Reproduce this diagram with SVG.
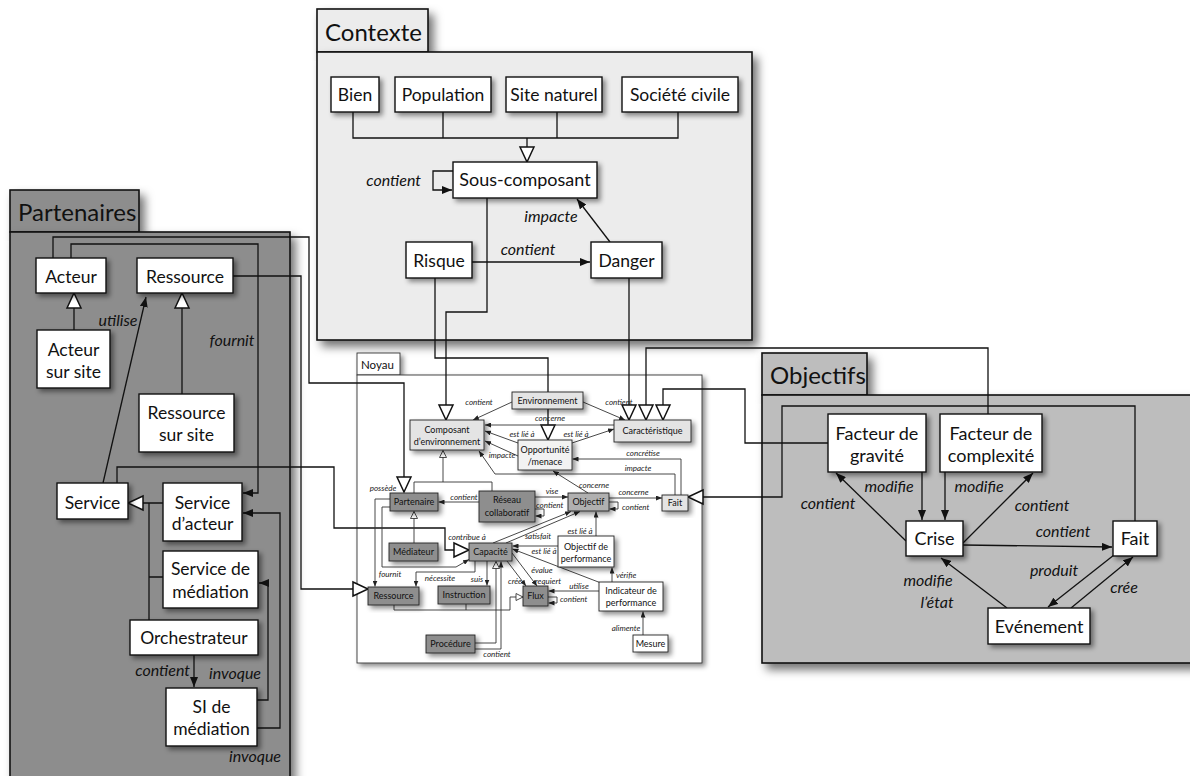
<svg xmlns="http://www.w3.org/2000/svg" width="1190" height="776" viewBox="0 0 1190 776">
<defs>
<filter id="sh" x="-20%" y="-30%" width="150%" height="170%"><feDropShadow dx="3" dy="3" stdDeviation="2.5" flood-color="#000" flood-opacity="0.45"/></filter>
<filter id="shp" x="-10%" y="-10%" width="130%" height="130%"><feDropShadow dx="5" dy="6" stdDeviation="5" flood-color="#000" flood-opacity="0.55"/></filter>
<marker id="a" viewBox="0 0 10 8" refX="10" refY="4" markerWidth="10" markerHeight="8" markerUnits="userSpaceOnUse" orient="auto"><path d="M0,0L10,4L0,8z" fill="#111"/></marker>
<marker id="as" viewBox="0 0 6 5" refX="6" refY="2.5" markerWidth="6" markerHeight="5" markerUnits="userSpaceOnUse" orient="auto"><path d="M0,0L6,2.5L0,5z" fill="#222"/></marker>
<marker id="g" viewBox="-2 -2 19 18" refX="15" refY="7" markerWidth="19" markerHeight="18" markerUnits="userSpaceOnUse" orient="auto"><path d="M0,0L15,7L0,14z" fill="#fff" stroke="#111" stroke-width="1.5"/></marker>
<marker id="gs" viewBox="-1 -1 9 9" refX="7" refY="3.5" markerWidth="9" markerHeight="9" markerUnits="userSpaceOnUse" orient="auto"><path d="M0,0L7,3.5L0,7z" fill="#fff" stroke="#222" stroke-width="0.8"/></marker>
</defs>
<style>
.pb{stroke:#111;stroke-width:1.6}
.bx{fill:#fff;stroke:#111;stroke-width:1.4}
.nb{stroke:#222;stroke-width:0.9}
.lt{fill:#e4e4e4}
.op{fill:#f2f2f2}
.dk{fill:#8e8e8e}
.cp{fill:#9c9c9c}
.ob{fill:#b0b0b0}
.wh{fill:#fff}
.t{font-family:Lato,"Open Sans","DejaVu Sans",sans-serif;fill:#111;text-anchor:middle}
.t17{font-size:17.5px}
.t18{font-size:18px}
.tn{font-size:9px}
.ttl{font-family:Lato,"Open Sans","DejaVu Sans",sans-serif;fill:#111;font-size:24px}
.c{fill:none;stroke:#111;stroke-width:1.3}
.cn{fill:none;stroke:#333;stroke-width:0.9}
.l{font-family:Lato,"Open Sans","DejaVu Sans",sans-serif;font-style:italic;fill:#111;font-size:16px;text-anchor:middle}
.ln{font-family:Lato,"Open Sans","DejaVu Sans",sans-serif;font-style:italic;fill:#222;font-size:8px;text-anchor:middle}
.st{text-anchor:start}
.en{text-anchor:end}
</style>

<g id="panel-contexte">
<rect x="317" y="9" width="111" height="43" fill="#ececec" class="pb" filter="url(#shp)"/>
<rect x="317" y="52" width="435" height="288" fill="#ececec" class="pb" filter="url(#shp)"/>
<text x="325" y="41" class="ttl">Contexte</text>
</g>
<g id="panel-partenaires">
<rect x="10" y="190" width="129" height="42" fill="#8d8d8d" class="pb" filter="url(#shp)"/>
<rect x="10" y="232" width="280" height="570" fill="#8d8d8d" class="pb" filter="url(#shp)"/>
<text x="18" y="221" class="ttl">Partenaires</text>
</g>
<g id="panel-objectifs">
<rect x="762" y="353" width="105" height="42" fill="#bdbdbd" class="pb" filter="url(#shp)"/>
<rect x="762" y="395" width="440" height="268" fill="#bdbdbd" class="pb" filter="url(#shp)"/>
<text x="770" y="384" class="ttl">Objectifs</text>
</g>
<g id="panel-noyau">
<rect x="357" y="353" width="43" height="22" fill="#fff" stroke="#333" stroke-width="0.9" filter="url(#sh)"/>
<rect x="357" y="375" width="345" height="288" fill="#fff" stroke="#333" stroke-width="0.9" filter="url(#sh)"/>
<text x="361" y="368.5" font-family="Lato,'Open Sans',sans-serif" font-size="11.5" fill="#111">Noyau</text>
</g>

<g id="connectors">
<!-- Contexte -->
<path class="c" d="M353,112V138H678V112M443,112V138M557,112V138"/>
<path class="c" d="M527,138V162" marker-end="url(#g)"/>
<path class="c" d="M453,171H433V190H452" marker-end="url(#a)"/>
<path class="c" d="M472,262H590" marker-end="url(#a)"/>
<path class="c" d="M610,242L577,199" marker-end="url(#a)"/>
<path class="c" d="M487,198V312H446V420" marker-end="url(#g)"/>
<path class="c" d="M435,278V358H548V440" marker-end="url(#g)"/>
<path class="c" d="M629,278V420" marker-end="url(#g)"/>
<text class="l en" x="421" y="186">contient</text>
<text class="l" x="528" y="255">contient</text>
<text class="l" x="551" y="222">impacte</text>
<!-- Partenaires -->
<path class="c" d="M74,330V293" marker-end="url(#g)"/>
<path class="c" d="M182,394V293" marker-end="url(#g)"/>
<path class="c" d="M163,503H128" marker-end="url(#g)"/>
<path class="c" d="M149,503V620M149,577H163"/>
<path class="c" d="M194,655V687" marker-end="url(#a)"/>
<path class="c" d="M257,700H268V583H259" marker-end="url(#a)"/>
<path class="c" d="M257,728H280V513H243" marker-end="url(#a)"/>
<path class="c" d="M71,258V244H258V493H243" marker-end="url(#a)"/>
<path class="c" d="M103,483L146,297" marker-end="url(#a)"/>
<path class="c" d="M53,258V237H309V383H404V492" marker-end="url(#g)"/>
<path class="c" d="M233,276H301V589H368" marker-end="url(#g)"/>
<path class="c" d="M117,483V467H334V528H445V550H469" marker-end="url(#g)"/>
<text class="l" x="118" y="326">utilise</text>
<text class="l" x="232" y="346">fournit</text>
<text class="l en" x="190" y="676" font-size="14">contient</text>
<text class="l" x="235" y="679">invoque</text>
<text class="l" x="255" y="762">invoque</text>
<!-- Objectifs -->
<path class="c" d="M906,541L836,473" marker-end="url(#a)"/>
<path class="c" d="M922,472V520" marker-end="url(#a)"/>
<path class="c" d="M945,472V520" marker-end="url(#a)"/>
<path class="c" d="M963,543L1033,473" marker-end="url(#a)"/>
<path class="c" d="M963,545L1112,547" marker-end="url(#a)"/>
<path class="c" d="M1007,608L941,558" marker-end="url(#a)"/>
<path class="c" d="M1114,555L1048,607" marker-end="url(#a)"/>
<path class="c" d="M1071,608L1133,557" marker-end="url(#a)"/>
<path class="c" d="M1135,521V406H782V497H688" marker-end="url(#g)"/>
<path class="c" d="M828,443H745V389H663V420" marker-end="url(#g)"/>
<path class="c" d="M988,414V348H646V420" marker-end="url(#g)"/>
<text class="l" x="828" y="509">contient</text>
<text class="l" x="889" y="492">modifie</text>
<text class="l" x="979" y="492">modifie</text>
<text class="l" x="1042" y="511">contient</text>
<text class="l" x="1063" y="537">contient</text>
<text class="l" x="928" y="586">modifie</text>
<text class="l" x="937" y="608">l’état</text>
<text class="l" x="1054" y="576">produit</text>
<text class="l" x="1124" y="593">crée</text>
<!-- Noyau -->
<path class="cn" d="M512,402L473,420" marker-end="url(#as)"/>
<path class="cn" d="M583,402L625,420" marker-end="url(#as)"/>
<path class="cn" d="M614,425H485" marker-end="url(#as)"/>
<path class="cn" d="M518,443L485,431" marker-end="url(#as)"/>
<path class="cn" d="M572,443L614,429" marker-end="url(#as)"/>
<path class="cn" d="M518,456L485,441" marker-end="url(#as)"/>
<path class="cn" d="M681,495V459H572.5" marker-end="url(#as)"/>
<path class="cn" d="M675,495V474H495L479,451" marker-end="url(#as)"/>
<path class="cn" d="M588,493L553,471" marker-end="url(#as)"/>
<path class="cn" d="M609,498H662" marker-end="url(#as)"/>
<path class="cn" d="M609,502H618V509H609.5" marker-end="url(#as)"/>
<path class="cn" d="M479,502H438.5" marker-end="url(#as)"/>
<path class="cn" d="M535,497H568" marker-end="url(#as)"/>
<path class="cn" d="M535,509H544V516H535.5" marker-end="url(#as)"/>
<path class="cn" d="M414,493V482H492V491"/>
<path class="cn" d="M443,482V450.5" marker-end="url(#gs)"/>
<path class="cn" d="M414,543V511.5" marker-end="url(#gs)"/>
<path class="cn" d="M390,499H375V586.5" marker-end="url(#as)"/>
<path class="cn" d="M390,507H382V567H456L469,559.5" marker-end="url(#as)"/>
<path class="cn" d="M475,561V572H416V586.5" marker-end="url(#as)"/>
<path class="cn" d="M487,561V585.5" marker-end="url(#as)"/>
<path class="cn" d="M475,643H496V561.5" marker-end="url(#gs)"/>
<path class="cn" d="M475,649H501V561.5" marker-end="url(#as)"/>
<path class="cn" d="M394,605V610H510V597H523" marker-end="url(#gs)"/>
<path class="cn" d="M466,604V610"/>
<path class="cn" d="M507,561L526,586" marker-end="url(#as)"/>
<path class="cn" d="M512,553L537,586" marker-end="url(#as)"/>
<path class="cn" d="M601,583L512.5,549" marker-end="url(#as)"/>
<path class="cn" d="M599,591H548.5" marker-end="url(#as)"/>
<path class="cn" d="M548,597H557V603H548.5" marker-end="url(#as)"/>
<path class="cn" d="M558,546H512.5" marker-end="url(#as)"/>
<path class="cn" d="M596,536V511.5" marker-end="url(#as)"/>
<path class="cn" d="M493,543L571,511.5" marker-end="url(#as)"/>
<path class="cn" d="M506,543L580,511.5" marker-end="url(#as)"/>
<path class="cn" d="M612,582V567.5" marker-end="url(#as)"/>
<path class="cn" d="M643,635V611.5" marker-end="url(#as)"/>
<text class="ln" x="479" y="405">contient</text>
<text class="ln" x="619" y="405">contient</text>
<text class="ln" x="550" y="420.5">concerne</text>
<text class="ln" x="522" y="437">est lié à</text>
<text class="ln" x="576" y="437">est lié à</text>
<text class="ln" x="502" y="458">impacte</text>
<text class="ln" x="643" y="455.5">concrétise</text>
<text class="ln" x="638" y="471">impacte</text>
<text class="ln" x="594" y="488">concerne</text>
<text class="ln" x="633.5" y="495">concerne</text>
<text class="ln st" x="622" y="510">contient</text>
<text class="ln" x="464" y="499.5">contient</text>
<text class="ln" x="552" y="494">vise</text>
<text class="ln st" x="536" y="507.5">contient</text>
<text class="ln" x="383" y="490.5">possède</text>
<text class="ln" x="390" y="577">fournit</text>
<text class="ln" x="440" y="581">nécessite</text>
<text class="ln" x="477" y="582">suis</text>
<text class="ln" x="497" y="657">contient</text>
<text class="ln" x="515" y="583.5">crée</text>
<text class="ln" x="548" y="583.5">requiert</text>
<text class="ln" x="542" y="572.5">évalue</text>
<text class="ln" x="579" y="588.5">utilise</text>
<text class="ln st" x="560" y="602">contient</text>
<text class="ln" x="544" y="553.5">est lié à</text>
<text class="ln" x="580" y="533.5">est lié à</text>
<text class="ln" x="467" y="539.5">contribue à</text>
<text class="ln" x="538" y="538.5">satisfait</text>
<text class="ln st" x="616" y="577.5">vérifie</text>
<text class="ln" x="626" y="631">alimente</text>
</g>

<!-- Contexte nodes -->
<g id="n-bien"><rect x="331" y="77" width="48" height="35" class="bx" filter="url(#sh)"/><text x="355" y="100.5" class="t t17">Bien</text></g>
<g id="n-population"><rect x="395" y="77" width="96" height="35" class="bx" filter="url(#sh)"/><text x="443" y="100.5" class="t t17">Population</text></g>
<g id="n-site-naturel"><rect x="506" y="77" width="96" height="35" class="bx" filter="url(#sh)"/><text x="554" y="100.5" class="t t17">Site naturel</text></g>
<g id="n-societe-civile"><rect x="622" y="77" width="116" height="35" class="bx" filter="url(#sh)"/><text x="680" y="100.5" class="t t17">Société civile</text></g>
<g id="n-sous-composant"><rect x="453" y="162" width="144" height="36" class="bx" filter="url(#sh)"/><text x="525" y="186" class="t t18">Sous-composant</text></g>
<g id="n-risque"><rect x="406" y="242" width="66" height="36" class="bx" filter="url(#sh)"/><text x="439" y="266.5" class="t t17">Risque</text></g>
<g id="n-danger"><rect x="591" y="242" width="71" height="36" class="bx" filter="url(#sh)"/><text x="626.5" y="266.5" class="t t17">Danger</text></g>

<!-- Partenaires nodes -->
<g id="n-acteur"><rect x="36" y="258" width="70" height="35" class="bx" filter="url(#sh)"/><text x="71" y="282.5" class="t t17">Acteur</text></g>
<g id="n-ressource-p"><rect x="137" y="258" width="96" height="35" class="bx" filter="url(#sh)"/><text x="185" y="282.5" class="t t17">Ressource</text></g>
<g id="n-acteur-sur-site"><rect x="37" y="330" width="73" height="58" class="bx" filter="url(#sh)"/><text x="73.5" y="355.5" class="t t17">Acteur</text><text x="73.5" y="377.5" class="t t17">sur site</text></g>
<g id="n-ressource-sur-site"><rect x="139" y="394" width="95" height="58" class="bx" filter="url(#sh)"/><text x="186.5" y="419" class="t t17">Ressource</text><text x="186.5" y="441" class="t t17">sur site</text></g>
<g id="n-service"><rect x="57" y="483" width="71" height="36" class="bx" filter="url(#sh)"/><text x="92.5" y="508.5" class="t t17">Service</text></g>
<g id="n-service-acteur"><rect x="163" y="483" width="79" height="58" class="bx" filter="url(#sh)"/><text x="202.5" y="508.5" class="t t17">Service</text><text x="202.5" y="530" class="t t17">d’acteur</text></g>
<g id="n-service-mediation"><rect x="163" y="551" width="95" height="57" class="bx" filter="url(#sh)"/><text x="210.5" y="575" class="t t17">Service de</text><text x="210.5" y="597.5" class="t t17">médiation</text></g>
<g id="n-orchestrateur"><rect x="130" y="620" width="128" height="35" class="bx" filter="url(#sh)"/><text x="194" y="644" class="t t17">Orchestrateur</text></g>
<g id="n-si-mediation"><rect x="166" y="688" width="91" height="58" class="bx" filter="url(#sh)"/><text x="211.5" y="713" class="t t17">SI de</text><text x="211.5" y="735" class="t t17">médiation</text></g>

<!-- Objectifs nodes -->
<g id="n-facteur-gravite"><rect x="828" y="414" width="98" height="58" class="bx" filter="url(#sh)"/><text x="877" y="439.5" class="t t18">Facteur de</text><text x="877" y="462" class="t t18">gravité</text></g>
<g id="n-facteur-complexite"><rect x="940" y="414" width="102" height="58" class="bx" filter="url(#sh)"/><text x="991" y="439.5" class="t t18">Facteur de</text><text x="991" y="462" class="t t18">complexité</text></g>
<g id="n-crise"><rect x="906" y="521" width="57" height="35" class="bx" filter="url(#sh)"/><text x="934.5" y="545" class="t t18">Crise</text></g>
<g id="n-fait-o"><rect x="1113" y="521" width="44" height="35" class="bx" filter="url(#sh)"/><text x="1135" y="545" class="t t18">Fait</text></g>
<g id="n-evenement"><rect x="988" y="608" width="102" height="36" class="bx" filter="url(#sh)"/><text x="1039" y="632.5" class="t t18">Evénement</text></g>

<!-- Noyau nodes -->
<g id="n-environnement"><rect x="512" y="392" width="71" height="17" class="nb lt" filter="url(#sh)"/><text x="547.5" y="403.5" class="t tn">Environnement</text></g>
<g id="n-composant"><rect x="410" y="420" width="74" height="30" class="nb lt" filter="url(#sh)"/><text x="447" y="433" class="t tn">Composant</text><text x="447" y="445" class="t tn">d’environnement</text></g>
<g id="n-caracteristique"><rect x="614" y="420" width="77" height="22" class="nb lt" filter="url(#sh)"/><text x="652.5" y="434" class="t tn">Caractéristique</text></g>
<g id="n-opportunite"><rect x="518" y="440" width="54" height="30" class="nb op" filter="url(#sh)"/><text x="545" y="452.5" class="t tn">Opportunité</text><text x="545" y="465" class="t tn">/menace</text></g>
<g id="n-partenaire"><rect x="390" y="493" width="48" height="18" class="nb dk" filter="url(#sh)"/><text x="414" y="505" class="t tn">Partenaire</text></g>
<g id="n-reseau"><rect x="479" y="491" width="56" height="31" class="nb dk" filter="url(#sh)"/><text x="507" y="503" class="t tn">Réseau</text><text x="507" y="516" class="t tn">collaboratif</text></g>
<g id="n-objectif"><rect x="568" y="493" width="41" height="18" class="nb ob" filter="url(#sh)"/><text x="588.5" y="505" class="t tn">Objectif</text></g>
<g id="n-fait-n"><rect x="662" y="495" width="26" height="16" class="nb lt" filter="url(#sh)"/><text x="675" y="506" class="t tn">Fait</text></g>
<g id="n-mediateur"><rect x="389" y="543" width="49" height="18" class="nb dk" filter="url(#sh)"/><text x="413.5" y="555" class="t tn">Médiateur</text></g>
<g id="n-capacite"><rect x="469" y="543" width="43" height="18" class="nb cp" filter="url(#sh)"/><text x="490.5" y="555" class="t tn">Capacité</text></g>
<g id="n-objectif-perf"><rect x="558" y="536" width="56" height="31" class="nb wh" filter="url(#sh)"/><text x="586" y="549.5" class="t tn">Objectif de</text><text x="586" y="561.5" class="t tn">performance</text></g>
<g id="n-ressource-n"><rect x="368" y="587" width="51" height="18" class="nb dk" filter="url(#sh)"/><text x="393.5" y="599" class="t tn">Ressource</text></g>
<g id="n-instruction"><rect x="438" y="586" width="52" height="18" class="nb dk" filter="url(#sh)"/><text x="464" y="598" class="t tn">Instruction</text></g>
<g id="n-flux"><rect x="523" y="586" width="25" height="20" class="nb dk" filter="url(#sh)"/><text x="535.5" y="599" class="t tn">Flux</text></g>
<g id="n-indicateur"><rect x="599" y="582" width="64" height="29" class="nb wh" filter="url(#sh)"/><text x="631" y="594" class="t tn">Indicateur de</text><text x="631" y="606" class="t tn">performance</text></g>
<g id="n-procedure"><rect x="426" y="635" width="49" height="18" class="nb dk" filter="url(#sh)"/><text x="450.5" y="647" class="t tn">Procédure</text></g>
<g id="n-mesure"><rect x="633" y="635" width="35" height="17" class="nb wh" filter="url(#sh)"/><text x="650.5" y="646.5" class="t tn">Mesure</text></g>
</svg>
